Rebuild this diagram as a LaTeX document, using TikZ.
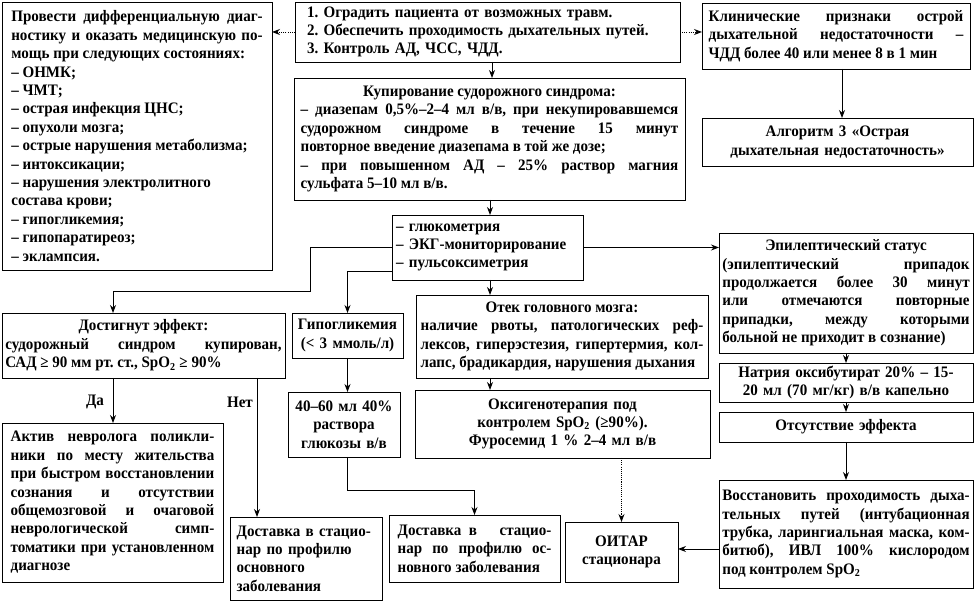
\documentclass[tikz,border=0pt]{standalone}
\usepackage{fontspec}
\setmainfont[FakeStretch=0.94]{Liberation Serif}
\usetikzlibrary{arrows.meta}
\frenchspacing
\newcommand\bxfont{\fontsize{12}{13.8}\selectfont\bfseries\frenchspacing\parindent=0pt\parskip=0pt\tolerance=10000\hyphenpenalty=10000\exhyphenpenalty=10000\relax}
% name, x1, y1, x2, y2, pad(pt), options, text
\newcommand\mybox[8]{%
  \pgfmathsetmacro\mbw{(#4-#2)*0.75}%
  \pgfmathsetmacro\mbh{(#5-#3)*0.75}%
  \pgfmathsetmacro\mbt{(#4-#2)*0.75-2*#6}%
  \node[box,inner xsep=#6pt,minimum width=\mbw pt,minimum height=\mbh pt,text width=\mbt pt,#7] (#1) at ({(#2+#4)/2},{(#3+#5)/2}) {#8};}
\begin{document}
\begin{tikzpicture}[x=0.75pt,y=-0.75pt,
  box/.style={draw=black,line width=0.7pt,inner ysep=1pt,outer sep=0pt,fill=white,font=\bxfont},
  conn/.style={line width=0.7pt,-{Stealth[length=6pt,width=4.5pt]}},
  dotc/.style={conn,dash pattern=on 0.8pt off 0.8pt},
  lbl/.style={font=\bxfont,inner sep=0pt}]
\fill[white] (0,0) rectangle (976,605);
\useasboundingbox (0,0) rectangle (976,605);

\mybox{L}{2}{2}{272}{270}{7}{align=justify}{Провести дифференциальную диаг-\linebreak
ностику и оказать медицинскую по-\linebreak
мощь при следующих состояниях:\par
– ОНМК;\par
– ЧМТ;\par
– острая инфекция ЦНС;\par
– опухоли мозга;\par
– острые нарушения метаболизма;\par
– интоксикации;\par
– нарушения электролитного\par
состава крови;\par
– гипогликемия;\par
– гипопаратиреоз;\par
– эклампсия.}

\mybox{T}{295}{2}{680}{62}{9}{align=left}{1. Оградить пациента от возможных травм.\\
2. Обеспечить проходимость дыхательных путей.\\
3. Контроль АД, ЧСС, ЧДД.}

\mybox{K}{702}{3}{970}{69}{5}{align=justify}{Клинические признаки острой\linebreak
дыхательной недостаточности –\linebreak
ЧДД более 40 или менее 8 в 1 мин}

\mybox{Alg}{702}{118}{973}{166}{5}{align=center}{Алгоритм 3 «Острая\\ дыхательная недостаточность»}

\mybox{Kup}{294}{78}{685}{200}{5}{align=justify}{{\centering Купирование судорожного синдрома:\par}
– диазепам 0,5\%–2–4 мл в/в, при некупировавшемся\linebreak
судорожном синдроме в течение 15 минут\linebreak
повторное введение диазепама в той же дозе;\par
– при повышенном АД – 25\% раствор магния\linebreak
сульфата 5–10 мл в/в.}

\mybox{D}{392}{215}{583}{280}{3}{align=left}{– глюкометрия\\ – ЭКГ-мониторирование\\ – пульсоксиметрия}

\mybox{Otek}{416}{295}{708}{378}{3.5}{align=justify}{{\centering Отек головного мозга:\par}
наличие рвоты, патологических реф-\linebreak
лексов, гиперэстезия, гипертермия, кол-\linebreak
лапс, брадикардия, нарушения дыхания}

\mybox{Hypo}{292}{313}{403}{358}{3}{align=center}{Гипогликемия\\ (< 3 ммоль/л)}

\mybox{Dost}{2}{313}{285}{378}{2.5}{align=justify}{{\centering Достигнут эффект:\par}
судорожный синдром купирован,\linebreak
САД ≥ 90 мм рт. ст., SpO\textsubscript{2} ≥ 90\%}

\mybox{G40}{288}{392}{400}{457}{3}{align=center}{40–60 мл 40\%\\ раствора\\ глюкозы в/в}

\mybox{Oks}{415}{390}{710}{458}{4}{align=center}{Оксигенотерапия под\\ контролем SpO\textsubscript{2} (≥90\%).\\ Фуросемид 1 \% 2–4 мл в/в}

\mybox{Aktiv}{2}{423}{223}{582}{6.5}{align=justify}{Актив невролога поликли-\linebreak
ники по месту жительства\linebreak
при быстром восстановлении\linebreak
сознания и отсутствии\linebreak
общемозговой и очаговой\linebreak
неврологической симп-\linebreak
томатики при установленном\linebreak
диагнозе}

\mybox{Dost1}{230}{517}{382}{600}{5}{align=left}{\mbox{Доставка в стацио-}\\ нар по профилю\\ основного\\ заболевания}

\mybox{Dost2}{389}{515}{560}{582}{6.5}{align=justify}{Доставка в \ \ стацио-\linebreak
нар по профилю ос-\linebreak
новного заболевания}

\mybox{OIT}{565}{522}{678}{582}{3}{align=center}{ОИТАР\\ стационара}

\mybox{Epi}{719}{233}{973}{353}{2.5}{align=justify}{{\centering Эпилептический статус\par}
(эпилептический припадок\linebreak
продолжается более 30 минут\linebreak
или отмечаются повторные\linebreak
припадки, между которыми\linebreak
больной не приходит в сознание)}

\mybox{Nat}{719}{363}{973}{402}{3}{align=center}{Натрия оксибутират 20\% – 15-\\ 20 мл (70 мг/кг) в/в капельно}

\mybox{Ots}{719}{412}{973}{442}{3}{align=center}{Отсутствие эффекта}

\mybox{Vos}{719}{480}{973}{588}{2.5}{align=justify}{Восстановить проходимость дыха-\linebreak
тельных путей (интубационная\linebreak
трубка, ларингиальная маска, ком-\linebreak
битюб), ИВЛ 100\% кислородом\linebreak
под контролем SpO\textsubscript{2}}

% connectors
\draw[dotc] (T.west) -- (T.west -| L.east);
\draw[dotc] (T.east) -- (T.east -| K.west);
\draw[conn] (492,0 |- T.south) -- (492,0 |- Kup.north);
\draw[conn] (490,0 |- Kup.south) -- (490,0 |- D.north);
\draw[conn] (490,0 |- D.south) -- (490,0 |- Otek.north);
\draw[conn] (490,0 |- Otek.south) -- (490,0 |- Oks.north);
\draw[dotc] (OIT.north |- Oks.south) -- (OIT.north);
\draw[conn] (842,0 |- K.south) -- (842,0 |- Alg.north);
\draw[conn] (D.east) -- (D.east -| Epi.west);
\draw[conn] (D.west) -| (310,291) -| (113,0 |- Dost.north);
\draw[conn] (D.west |- 0,271) -| (Hypo.north);
\draw[conn] (Hypo.south) -- (Hypo.south |- G40.north);
\draw[conn] (Hypo.south |- G40.south) -- ++(0,33) -| (Dost2.north);
\draw[conn] (113,0 |- Dost.south) -- (113,0 |- Aktiv.north);
\draw[conn] (257,0 |- Dost.south) -- (257,0 |- Dost1.north);
\draw[conn] (Epi.south) -- (Nat.north);
\draw[conn] (Nat.south) -- (Ots.north);
\draw[conn] (Ots.south) -- (Vos.north);
\draw[conn] (Vos.west |- 0,549) -- (OIT.east |- 0,549);

\node[lbl] (da) at (95,402) {Да};
\node[lbl] (net) at (240,402) {Нет};
\end{tikzpicture}
\end{document}
